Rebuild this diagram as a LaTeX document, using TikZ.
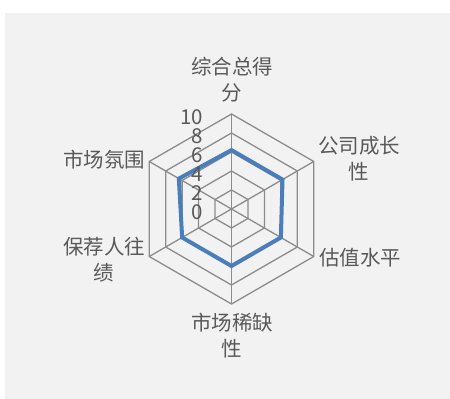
\documentclass[tikz,border=0pt]{standalone}
\usepackage{fontspec}
\setmainfont{Noto Sans CJK SC}
\usetikzlibrary{calc}
\definecolor{panel gray}{HTML}{F2F2F2}
\definecolor{grid gray}{HTML}{8C8C8C}
\definecolor{series blue}{HTML}{4A7EBB}
\definecolor{label gray}{HTML}{595959}
\tikzstyle{ring}=[draw=grid gray,line width=1.3pt,line join=miter]
\tikzstyle{series}=[draw=series blue,line width=4pt,line join=miter]

\begin{document}
\begin{tikzpicture}[
  x=1pt,y=1pt,
  axis label/.style={text=label gray,font=\fontsize{20.5}{26}\selectfont,align=center,inner sep=0pt},
  tick label/.style={text=label gray,font=\fontsize{20.5}{20.5}\selectfont,inner sep=0pt,anchor=east},
]
\useasboundingbox (0,0) rectangle (450,399);
\fill[panel gray] (5,0) rectangle (450,386);
\coordinate (o) at (231.5,190);
% web
\foreach \r in {19,38,57,76,95}
  \draw[ring,shift={(o)}] (90:\r) -- (30:\r) -- (-30:\r) -- (-90:\r) -- (210:\r) -- (150:\r) -- cycle;
\foreach \a in {90,30,-30,-90,210,150}
  \draw[ring] (o) -- ++(\a:95);
% series
\draw[series,shift={(o)}] (90:{6.2*9.5}) -- (30:{6.2*9.5}) -- (-30:{6.0*9.5})
  -- (-90:{6.0*9.5}) -- (210:{6.0*9.5}) -- (150:{6.4*9.5}) -- cycle;
% scale
\foreach \v in {0,2,...,10}
  \node[tick label] (t\v) at (203,{190+\v*9.5-3.5}) {\v};
% categories
\node[axis label] (score) at (232,319.5) {综合总得\\分};
\node[axis label] (growth) at (359,240) {公司成长\\性};
\node[axis label] (value) at (360,141) {估值水平};
\node[axis label] (scarce) at (232,63.5) {市场稀缺\\性};
\node[axis label] (sponsor) at (104,139.3) {保荐人往\\绩};
\node[axis label] (mood) at (104,239) {市场氛围};
\end{tikzpicture}
\end{document}
